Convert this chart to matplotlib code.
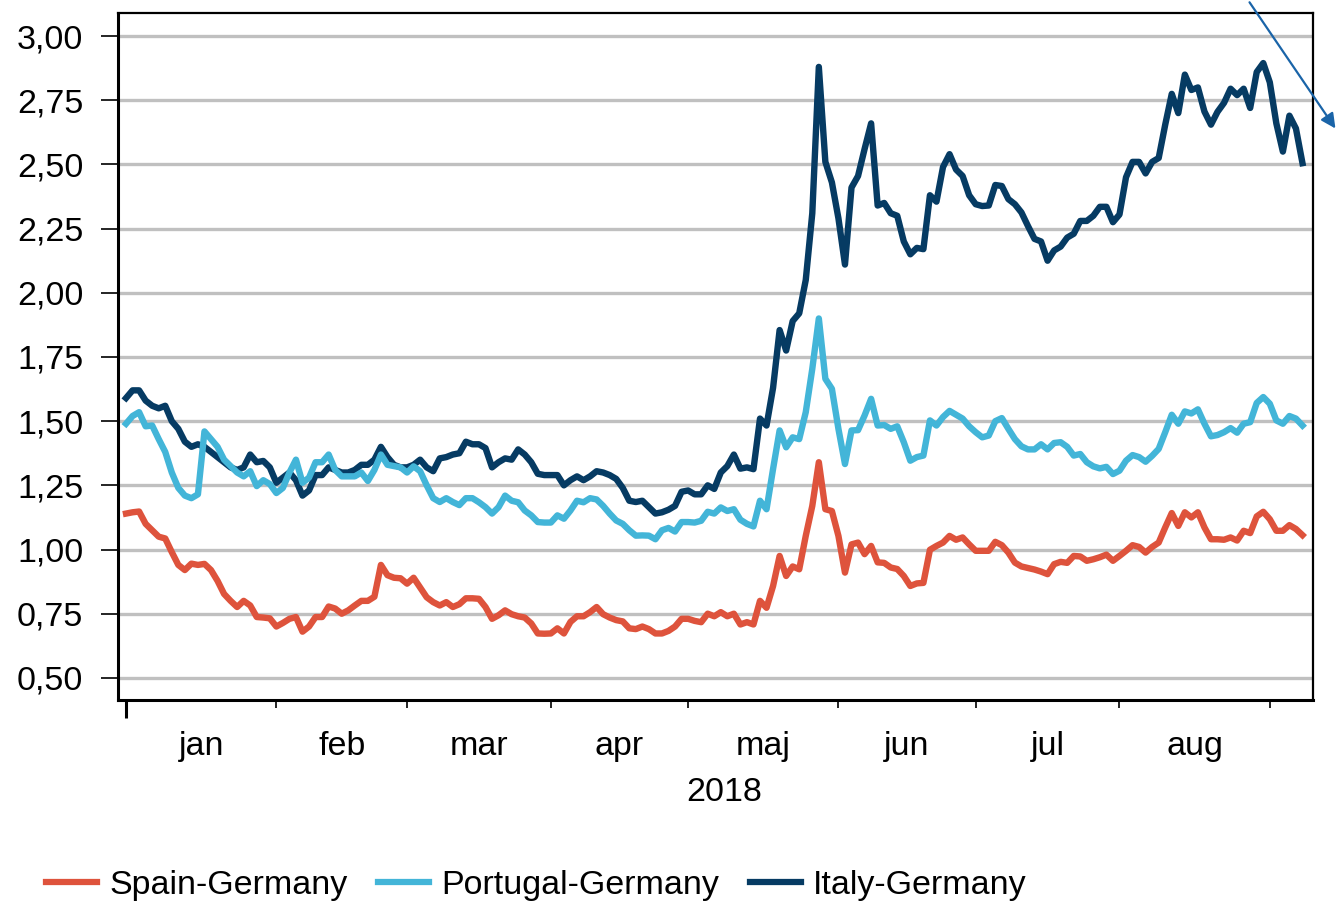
import numpy as np
import pandas as pd
import matplotlib
matplotlib.use('Agg')
import matplotlib.pyplot as plt
from matplotlib.lines import Line2D

plt.rcParams['font.family'] = ['Liberation Sans', 'DejaVu Sans']

# business days from 1 Jan 2018 onwards, one value per day
dates = pd.bdate_range('2018-01-01', periods=181)
month_labels = ['jan', 'feb', 'mar', 'apr', 'maj', 'jun', 'jul', 'aug']

spain = [
    1.14, 1.145, 1.148, 1.10, 1.075, 1.05, 1.043, 0.99, 0.94, 0.92,
    0.945, 0.94, 0.944, 0.92, 0.878, 0.827, 0.80, 0.776, 0.80, 0.782,
    0.737, 0.735, 0.732, 0.70, 0.714, 0.73, 0.737, 0.68, 0.70, 0.737,
    0.737, 0.778, 0.77, 0.75, 0.763, 0.782, 0.80, 0.80, 0.816, 0.94,
    0.90, 0.89, 0.888, 0.867, 0.89, 0.852, 0.814, 0.795, 0.782, 0.795,
    0.776, 0.787, 0.81, 0.81, 0.808, 0.776, 0.73, 0.744, 0.763, 0.748,
    0.74, 0.735, 0.712, 0.673, 0.672, 0.673, 0.693, 0.673, 0.718, 0.74,
    0.74, 0.756, 0.776, 0.748, 0.735, 0.725, 0.72, 0.693, 0.69, 0.70,
    0.69, 0.673, 0.673, 0.683, 0.70, 0.73, 0.73, 0.722, 0.717, 0.75,
    0.74, 0.756, 0.74, 0.75, 0.708, 0.717, 0.708, 0.80, 0.773, 0.858,
    0.975, 0.897, 0.934, 0.923, 1.053, 1.17, 1.34, 1.157, 1.15, 1.053,
    0.91, 1.02, 1.027, 0.982, 1.014, 0.95, 0.948, 0.93, 0.924, 0.897,
    0.858, 0.868, 0.87, 0.999, 1.014, 1.027, 1.053, 1.038, 1.047, 1.02,
    0.995, 0.995, 0.995, 1.03, 1.017, 0.988, 0.949, 0.934, 0.928, 0.922,
    0.914, 0.904, 0.943, 0.952, 0.948, 0.975, 0.973, 0.956, 0.962, 0.97,
    0.98, 0.956, 0.975, 0.995, 1.017, 1.01, 0.988, 1.01, 1.027, 1.086,
    1.142, 1.092, 1.145, 1.125, 1.145, 1.086, 1.04, 1.04, 1.038, 1.047,
    1.035, 1.073, 1.064, 1.129, 1.147, 1.118, 1.073, 1.073, 1.095, 1.08,
    1.056,
]

portugal = [
    1.49, 1.52, 1.535, 1.48, 1.483, 1.43, 1.38, 1.30, 1.24, 1.21,
    1.20, 1.215, 1.46, 1.43, 1.40, 1.35, 1.325, 1.30, 1.285, 1.305,
    1.247, 1.27, 1.255, 1.22, 1.24, 1.30, 1.35, 1.26, 1.28, 1.34,
    1.34, 1.37, 1.31, 1.285, 1.285, 1.285, 1.30, 1.267, 1.31, 1.37,
    1.33, 1.325, 1.32, 1.30, 1.324, 1.305, 1.25, 1.20, 1.185, 1.20,
    1.185, 1.173, 1.20, 1.20, 1.184, 1.165, 1.14, 1.165, 1.21, 1.19,
    1.184, 1.152, 1.133, 1.107, 1.105, 1.105, 1.133, 1.12, 1.152, 1.19,
    1.184, 1.20, 1.195, 1.17, 1.14, 1.113, 1.10, 1.075, 1.054, 1.055,
    1.054, 1.04, 1.075, 1.084, 1.07, 1.107, 1.107, 1.105, 1.112, 1.147,
    1.14, 1.164, 1.15, 1.157, 1.116, 1.10, 1.09, 1.19, 1.157, 1.314,
    1.464, 1.398, 1.437, 1.43, 1.535, 1.704, 1.90, 1.665, 1.626, 1.47,
    1.333, 1.464, 1.465, 1.522, 1.587, 1.483, 1.485, 1.47, 1.48, 1.418,
    1.346, 1.36, 1.366, 1.503, 1.483, 1.516, 1.54, 1.525, 1.51, 1.48,
    1.457, 1.437, 1.444, 1.50, 1.512, 1.47, 1.43, 1.402, 1.39, 1.39,
    1.41, 1.39, 1.415, 1.418, 1.40, 1.366, 1.372, 1.34, 1.324, 1.316,
    1.322, 1.294, 1.307, 1.346, 1.368, 1.36, 1.342, 1.365, 1.392, 1.457,
    1.525, 1.49, 1.538, 1.53, 1.546, 1.49, 1.441, 1.446, 1.457, 1.473,
    1.455, 1.49, 1.496, 1.571, 1.594, 1.568, 1.503, 1.49, 1.52, 1.51,
    1.483,
]

italy = [
    1.59, 1.62, 1.62, 1.58, 1.56, 1.55, 1.56, 1.50, 1.47, 1.42,
    1.40, 1.41, 1.40, 1.38, 1.36, 1.34, 1.32, 1.31, 1.32, 1.37,
    1.34, 1.345, 1.32, 1.26, 1.28, 1.30, 1.27, 1.21, 1.23, 1.29,
    1.29, 1.32, 1.31, 1.30, 1.30, 1.31, 1.33, 1.33, 1.35, 1.40,
    1.36, 1.33, 1.32, 1.32, 1.33, 1.35, 1.32, 1.305, 1.355, 1.36,
    1.37, 1.375, 1.42, 1.41, 1.41, 1.395, 1.32, 1.34, 1.355, 1.35,
    1.39, 1.37, 1.34, 1.295, 1.29, 1.29, 1.29, 1.25, 1.27, 1.285,
    1.27, 1.285, 1.305, 1.30, 1.29, 1.275, 1.24, 1.19, 1.185, 1.19,
    1.165, 1.14, 1.145, 1.155, 1.17, 1.225, 1.23, 1.215, 1.215, 1.25,
    1.236, 1.30, 1.325, 1.37, 1.315, 1.32, 1.313, 1.51, 1.483, 1.63,
    1.855, 1.775, 1.89, 1.92, 2.05, 2.31, 2.88, 2.51, 2.43, 2.29,
    2.11, 2.41, 2.455, 2.56, 2.66, 2.34, 2.35, 2.31, 2.30, 2.20,
    2.15, 2.175, 2.17, 2.38, 2.355, 2.49, 2.54, 2.48, 2.455, 2.38,
    2.345, 2.338, 2.34, 2.42, 2.416, 2.365, 2.345, 2.313, 2.26, 2.21,
    2.20, 2.125, 2.165, 2.18, 2.215, 2.23, 2.28, 2.28, 2.30, 2.335,
    2.335, 2.275, 2.305, 2.45, 2.51, 2.51, 2.465, 2.51, 2.525, 2.655,
    2.775, 2.70, 2.85, 2.79, 2.80, 2.706, 2.655, 2.705, 2.74, 2.795,
    2.77, 2.795, 2.72, 2.86, 2.895, 2.82, 2.66, 2.55, 2.69, 2.64,
    2.505,
]

c_spain = '#de533c'
c_portugal = '#43b5d8'
c_italy = '#063b63'
fs = 24.5

x = np.arange(len(dates))
month_starts = [i for i in range(len(dates)) if i == 0 or dates[i].month != dates[i - 1].month]

fig = plt.figure(figsize=(13.37, 9.02), dpi=100)
ax = fig.add_axes([0.0883, 0.224, 0.8937, 0.7616])

ax.plot(x, spain, color=c_spain, lw=4.6, zorder=3)
ax.plot(x, italy, color=c_italy, lw=4.6, zorder=3)
ax.plot(x, portugal, color=c_portugal, lw=4.6, zorder=4)

ax.set_xlim(-1.22, 181.6)
ax.set_ylim(0.414, 3.09)

yt = np.arange(0.5, 3.01, 0.25)
ax.set_yticks(yt)
ax.set_yticklabels([f'{v:.2f}'.replace('.', ',') for v in yt])
ax.yaxis.grid(True, color='#c0c0c0', lw=2.4)
ax.set_axisbelow(True)

ax.set_xticks(month_starts)
ax.set_xticklabels([])
mids = [(a + b) / 2 for a, b in zip(month_starts[:-1], month_starts[1:])]
ax.set_xticks(mids, minor=True)
ax.set_xticklabels(month_labels, minor=True)

ax.tick_params(axis='y', length=12, width=1.2, pad=13, labelsize=fs)
ax.tick_params(axis='x', which='major', length=6, width=1.2, direction='out')
ax.tick_params(axis='x', which='minor', length=0, pad=22, labelsize=fs)
ax.xaxis.get_major_ticks()[0].tick1line.set_markersize(13)
ax.xaxis.get_major_ticks()[0].tick1line.set_markeredgewidth(2.2)

for s in ['left', 'bottom']:
    ax.spines[s].set_linewidth(2.2)
for s in ['top', 'right']:
    ax.spines[s].set_linewidth(1.6)

ax.text(0.507, -0.135, '2018', transform=ax.transAxes, ha='center', va='center', fontsize=fs)

handles = [
    Line2D([], [], color=c_spain, lw=4.5),
    Line2D([], [], color=c_portugal, lw=4.5),
    Line2D([], [], color=c_italy, lw=4.5),
]
fig.legend(handles, ['Spain-Germany', 'Portugal-Germany', 'Italy-Germany'],
           loc='center left', bbox_to_anchor=(0.022, 0.018), ncol=3, frameon=False,
           fontsize=fs, borderpad=0, handlelength=1.5, handletextpad=0.35,
           columnspacing=0.9)

ax.annotate('', xy=(1.0, 0.855), xytext=(0.9334, 1.0), xycoords='figure fraction',
            textcoords='figure fraction',
            arrowprops=dict(arrowstyle='-|>', color='#1a64a8', lw=1.6, mutation_scale=22))

fig.savefig('out.png', dpi=100)
